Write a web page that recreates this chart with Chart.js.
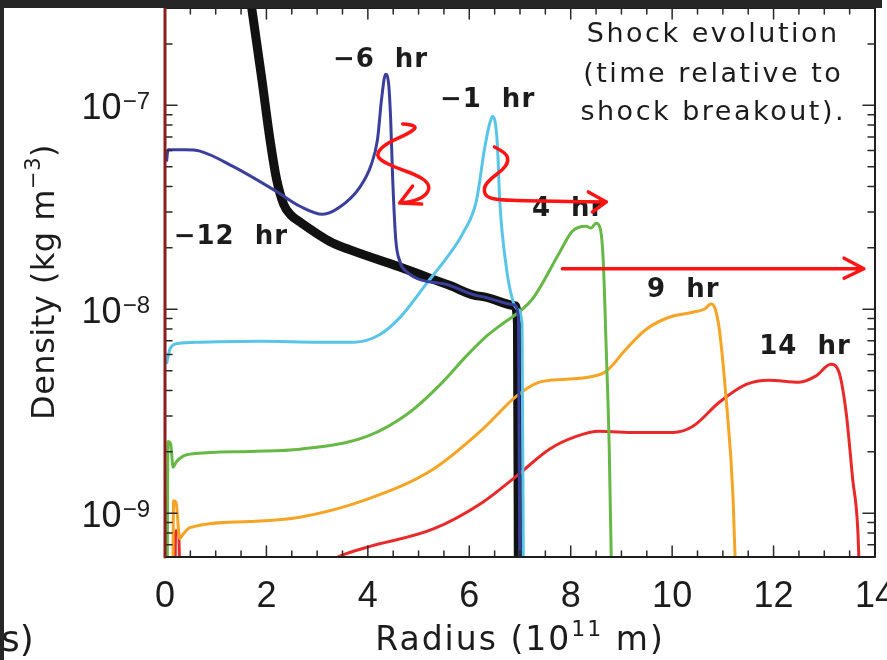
<!DOCTYPE html>
<html>
<head>
<meta charset="utf-8">
<title>Shock evolution</title>
<script src="https://cdn.jsdelivr.net/npm/chart.js@4.4.1/dist/chart.umd.min.js"></script>
<style>
  html, body { margin: 0; padding: 0; background: #fff; }
  canvas { display: block; }
</style>
</head>
<body>
<canvas id="shockChart" width="887" height="660"></canvas>
<script>
// Density profiles, radius in 1e11 m, density in kg m^-3
const rM12 = [1.66, 1.71, 1.91, 2.07, 2.20, 2.34, 2.48, 2.66, 3.25, 3.64, 4.63, 5.61, 6.20, 6.90, 6.95, 6.97];
const dM12 = [3.6e-7, 3.0e-7, 1.34e-7, 6.8e-8, 4.34e-8, 3.27e-8, 2.9e-8, 2.68e-8, 2.15e-8, 1.96e-8, 1.61e-8, 1.31e-8, 1.16e-8, 1.04e-8, 8.5e-9, 3e-10];

const rM6 = [0.03, 0.06, 0.40, 0.69, 1.34, 2.20, 2.66, 3.11, 3.44, 3.84, 4.07, 4.19, 4.27, 4.35, 4.41, 4.45, 4.49, 4.55, 4.63, 4.76, 5.61, 6.20, 6.89, 6.97, 7.00];
const dM6 = [5.3e-8, 6.05e-8, 6.05e-8, 5.96e-8, 5.02e-8, 3.78e-8, 3.2e-8, 2.92e-8, 3.16e-8, 3.96e-8, 5.14e-8, 6.8e-8, 1.07e-7, 1.42e-7, 1.27e-7, 8.5e-8, 4.34e-8, 2.2e-8, 1.72e-8, 1.53e-8, 1.31e-8, 1.16e-8, 1.05e-8, 9e-9, 3e-10];

const rM1 = [0.03, 0.10, 0.26, 0.69, 1.87, 3.05, 3.74, 4.23, 4.63, 5.16, 5.55, 5.87, 6.14, 6.30, 6.40, 6.46, 6.52, 6.56, 6.60, 6.73, 6.85, 6.95, 7.04, 7.07];
const dM1 = [5.4e-9, 6.4e-9, 6.8e-9, 6.9e-9, 6.97e-9, 6.9e-9, 6.9e-9, 7.5e-9, 9.1e-9, 1.34e-8, 1.78e-8, 2.35e-8, 3.4e-8, 6.1e-8, 8.1e-8, 8.85e-8, 8.0e-8, 6.0e-8, 3.43e-8, 1.61e-8, 1.12e-8, 1.0e-8, 8.5e-9, 3e-10];

const rP4 = [0.04, 0.06, 0.11, 0.16, 0.22, 0.35, 0.60, 1.67, 2.66, 3.98, 4.82, 5.47, 5.94, 6.34, 6.59, 7.24, 7.78, 8.03, 8.31, 8.40, 8.50, 8.58, 8.64, 8.70, 8.76, 8.82];
const dP4 = [3e-10, 2.25e-9, 2.2e-9, 1.68e-9, 1.78e-9, 1.9e-9, 1.96e-9, 2.01e-9, 2.06e-9, 2.38e-9, 3.12e-9, 4.38e-9, 5.89e-9, 7.38e-9, 8.26e-9, 1.12e-8, 1.9e-8, 2.41e-8, 2.55e-8, 2.5e-8, 2.64e-8, 2.5e-8, 1.76e-8, 6.4e-9, 2.06e-9, 3e-10];

const rP9 = [0.15, 0.17, 0.22, 0.29, 0.36, 0.49, 1.67, 2.66, 3.98, 5.28, 6.26, 6.93, 7.38, 7.91, 8.37, 8.70, 9.09, 9.49, 9.94, 10.41, 10.63, 10.77, 10.85, 10.93, 11.06, 11.20, 11.28];
const dP9 = [3e-10, 1.15e-9, 1.12e-9, 7.5e-10, 7.9e-10, 8.5e-10, 9.1e-10, 9.56e-10, 1.17e-9, 1.64e-9, 2.58e-9, 3.75e-9, 4.39e-9, 4.54e-9, 4.65e-9, 4.97e-9, 6.37e-9, 7.98e-9, 9.14e-9, 9.67e-9, 1.0e-8, 1.06e-8, 1.0e-8, 7.98e-9, 3.75e-9, 1.21e-9, 3e-10];

const rP14 = [0.19, 0.21, 0.27, 0.31, 1.50, 2.50, 3.44, 3.98, 5.28, 6.26, 6.93, 7.58, 8.11, 8.56, 9.29, 10.02, 10.41, 10.93, 11.46, 11.91, 12.50, 12.83, 13.13, 13.29, 13.43, 13.56, 13.66, 13.72];
const dP14 = [3e-10, 8.2e-10, 8.0e-10, 3e-10, 3.6e-10, 4.6e-10, 6.15e-10, 6.81e-10, 8.35e-10, 1.13e-9, 1.52e-9, 2.06e-9, 2.38e-9, 2.52e-9, 2.49e-9, 2.49e-9, 2.67e-9, 3.5e-9, 4.28e-9, 4.49e-9, 4.39e-9, 4.7e-9, 5.37e-9, 4.91e-9, 3.13e-9, 1.47e-9, 8.35e-10, 3e-10];

// axis ticks
const xMajorTicks = [0, 2, 4, 6, 8, 10, 12, 14];
const xTickLabels = ['0', '2', '4', '6', '8', '10', '12', '14'];
const yMajorTicks = [1e-9, 1e-8, 1e-7];
const yTickExponents = ['\u22129', '\u22128', '\u22127'];

// curve labels
const hourLabels = ['\u221212  hr', '\u22126  hr', '\u22121  hr', '4  hr', '9  hr', '14  hr'];
const labelR = [1.30, 4.25, 6.36, 7.95, 10.22, 12.62];
const labelD = [2.25e-8, 1.67e-7, 1.06e-7, 3.1e-8, 1.24e-8, 6.53e-9];

const noteLines = ['Shock evolution', '(time relative to', 'shock breakout).'];
const noteR = 10.81;
const noteD = [2.21e-7, 1.41e-7, 9.16e-8];

// red arrows: path, then the two barbs of the head
const arrowR = [
  [4.686, 5.001, 4.824, 4.371, 4.174, 4.233, 4.568, 4.962, 5.178, 5.217, 5.08, 4.824, 4.627],
  [6.497, 6.734, 6.773, 6.655, 6.438, 6.281, 6.32, 6.596, 7.127, 8.703],
  [7.836, 13.78]
];
const arrowD = [
  [8.1e-8, 8.0e-8, 7.31e-8, 6.53e-8, 5.84e-8, 5.39e-8, 4.93e-8, 4.55e-8, 4.2e-8, 3.85e-8, 3.52e-8, 3.36e-8, 3.32e-8],
  [6.25e-8, 5.84e-8, 5.27e-8, 4.82e-8, 4.4e-8, 3.98e-8, 3.55e-8, 3.44e-8, 3.4e-8, 3.36e-8],
  [1.58e-8, 1.58e-8]
];
const barbR = [[4.883, 5.06], [8.348, 8.427], [13.39, 13.39]];
const barbD = [[4.02e-8, 3.28e-8], [3.76e-8, 3.0e-8], [1.78e-8, 1.42e-8]];

const TEXT = '#1c1c1c';
const SANS = '"DejaVu Sans", sans-serif';
const TICK_FONT = '"Liberation Sans", Arial, sans-serif';

function points(r, d) {
  return r.map((v, i) => ({ x: v, y: d[i] }));
}

function profile(label, r, d, color, width, order) {
  return {
    label: label,
    data: points(r, d),
    borderColor: color,
    borderWidth: width,
    pointRadius: 0,
    fill: false,
    cubicInterpolationMode: 'monotone',
    clip: 0,
    order: order
  };
}

function smoothPath(ctx, pts) {
  ctx.moveTo(pts[0][0], pts[0][1]);
  for (let i = 1; i < pts.length - 1; i++) {
    const mx = (pts[i][0] + pts[i + 1][0]) / 2;
    const my = (pts[i][1] + pts[i + 1][1]) / 2;
    ctx.quadraticCurveTo(pts[i][0], pts[i][1], mx, my);
  }
  const last = pts[pts.length - 1];
  ctx.lineTo(last[0], last[1]);
}

const backdrop = {
  id: 'backdrop',
  beforeDraw(chart) {
    const ctx = chart.ctx;
    ctx.save();
    ctx.fillStyle = '#fff';
    ctx.fillRect(0, 0, chart.width, chart.height);
    ctx.restore();
  }
};

const decorations = {
  id: 'decorations',
  afterDatasetsDraw(chart) {
    const ctx = chart.ctx;
    const xs = chart.scales.x;
    const ys = chart.scales.y;
    const { left, right, top, bottom } = chart.chartArea;
    const px = (r) => xs.getPixelForValue(r);
    const py = (d) => ys.getPixelForValue(d);

    ctx.save();

    // curve labels
    ctx.fillStyle = TEXT;
    ctx.font = 'bold 26px ' + SANS;
    ctx.letterSpacing = '1px';
    ctx.textAlign = 'center';
    ctx.textBaseline = 'middle';
    hourLabels.forEach((t, i) => ctx.fillText(t, px(labelR[i]), py(labelD[i])));

    ctx.font = '27px ' + SANS;
    ctx.letterSpacing = '2.5px';
    noteLines.forEach((t, i) => ctx.fillText(t, px(noteR), py(noteD[i])));
    ctx.letterSpacing = '0px';

    // arrows
    ctx.strokeStyle = '#ff1414';
    ctx.lineWidth = 3.5;
    ctx.lineCap = 'round';
    ctx.lineJoin = 'round';
    arrowR.forEach((rs, k) => {
      const pts = rs.map((r, i) => [px(r), py(arrowD[k][i])]);
      ctx.beginPath();
      smoothPath(ctx, pts);
      const tip = pts[pts.length - 1];
      barbR[k].forEach((r, j) => {
        ctx.moveTo(px(r), py(barbD[k][j]));
        ctx.lineTo(tip[0], tip[1]);
      });
      ctx.stroke();
    });

    // inward ticks on all four sides
    ctx.strokeStyle = '#2a2a2a';
    ctx.lineWidth = 1.5;
    ctx.beginPath();
    for (let v = 0; v <= 14.001; v += 0.5) {
      const x = px(v);
      const len = xMajorTicks.includes(v) ? 11 : 6;
      ctx.moveTo(x, bottom); ctx.lineTo(x, bottom - len);
      ctx.moveTo(x, top); ctx.lineTo(x, top + len);
    }
    for (let e = -10; e <= -7; e++) {
      for (let k = 1; k <= 9; k++) {
        const v = k * Math.pow(10, e);
        if (v < ys.min || v > ys.max) continue;
        const y = py(v);
        const len = k === 1 ? 12 : 7;
        ctx.moveTo(left, y); ctx.lineTo(left + len, y);
        ctx.moveTo(right, y); ctx.lineTo(right - len, y);
      }
    }
    ctx.stroke();

    // frame
    ctx.strokeStyle = '#1e1e1e';
    ctx.lineWidth = 2;
    ctx.beginPath();
    ctx.moveTo(left, top); ctx.lineTo(right, top);
    ctx.lineTo(right, bottom); ctx.lineTo(left, bottom);
    ctx.stroke();
    ctx.strokeStyle = '#8a1e1e';
    ctx.lineWidth = 3;
    ctx.beginPath();
    ctx.moveTo(left, top); ctx.lineTo(left, bottom);
    ctx.stroke();

    // x tick labels
    ctx.fillStyle = TEXT;
    ctx.font = '36px ' + TICK_FONT;
    ctx.textAlign = 'center';
    ctx.textBaseline = 'alphabetic';
    xMajorTicks.forEach((v, i) => ctx.fillText(xTickLabels[i], px(v), bottom + 50));

    // y tick labels, 10 with a raised exponent
    yMajorTicks.forEach((v, i) => {
      const y = py(v);
      ctx.textAlign = 'right';
      ctx.font = '24px ' + TICK_FONT;
      const supW = ctx.measureText(yTickExponents[i]).width;
      ctx.fillText(yTickExponents[i], left - 15, y + 4);
      ctx.font = '36px ' + TICK_FONT;
      ctx.fillText('10', left - 15 - supW - 1, y + 14);
    });

    // axis titles
    ctx.textAlign = 'left';
    const run = (parts) => parts.reduce((w, p) => {
      ctx.font = p[1];
      return w + ctx.measureText(p[0]).width;
    }, 0);
    const drawRun = (parts, x0, base) => {
      let x = x0;
      parts.forEach((p) => {
        ctx.font = p[1];
        ctx.fillText(p[0], x, base - p[2]);
        x += ctx.measureText(p[0]).width;
      });
    };
    ctx.letterSpacing = '2px';
    const xTitle = [['Radius (10', '33px ' + SANS, 0], ['11', '22px ' + SANS, 14], [' m)', '33px ' + SANS, 0]];
    const xw = run(xTitle);
    drawRun(xTitle, (left + right) / 2 - xw / 2, 650);

    ctx.letterSpacing = '0.5px';
    const yTitle = [['Density (kg m', '32px ' + SANS, 0], ['\u22123', '21px ' + SANS, 14], [')', '32px ' + SANS, 0]];
    const yw = run(yTitle);
    ctx.translate(54, 282);
    ctx.rotate(-Math.PI / 2);
    drawRun(yTitle, -yw / 2, 0);
    ctx.restore();

    // neighbouring panel edge
    ctx.save();
    ctx.fillStyle = TEXT;
    ctx.font = '36px ' + SANS;
    ctx.textAlign = 'left';
    ctx.fillText('s)', 1, 651);
    ctx.fillStyle = '#262626';
    ctx.fillRect(0, 0, 882, 8);
    ctx.fillRect(0, 0, 4, chart.height);
    ctx.restore();
  }
};

new Chart(document.getElementById('shockChart'), {
  type: 'line',
  data: {
    datasets: [
      profile('-6 hr', rM6, dM6, '#3b3f9c', 3, 1),
      profile('-1 hr', rM1, dM1, '#58c5e8', 3, 2),
      profile('4 hr', rP4, dP4, '#67b846', 3, 3),
      profile('9 hr', rP9, dP9, '#f5a425', 3, 4),
      profile('14 hr', rP14, dP14, '#e82a2a', 3, 5),
      profile('-12 hr', rM12, dM12, '#111111', 9, 6)
    ]
  },
  options: {
    responsive: false,
    animation: false,
    events: [],
    layout: { padding: { left: 165, top: 8, right: 12, bottom: 103 } },
    plugins: {
      legend: { display: false },
      tooltip: { enabled: false }
    },
    scales: {
      x: { type: 'linear', min: 0, max: 14, display: false },
      y: { type: 'logarithmic', min: 6.1e-10, max: 3.0e-7, display: false }
    }
  },
  plugins: [backdrop, decorations]
});
</script>
</body>
</html>
